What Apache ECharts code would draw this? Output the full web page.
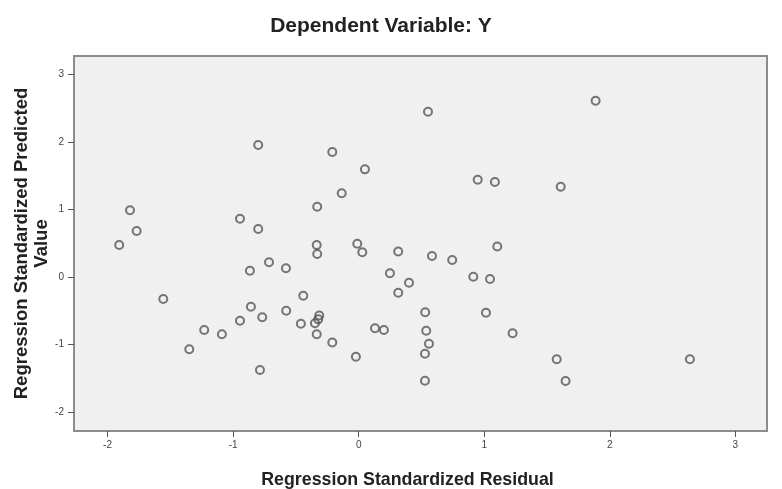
<!DOCTYPE html>
<html>
<head>
<meta charset="utf-8">
<script src="https://cdn.jsdelivr.net/npm/echarts@6/dist/echarts.min.js"></script>
<style>
  html, body { margin: 0; padding: 0; background: #fff; }
  #chart { width: 782px; height: 489px; }
</style>
</head>
<body>
<div id="chart"></div>
<script>
// residual vs predicted
const residual = [
  1.887, 0.552, -0.800, -0.210, 0.050, 0.948, 1.085, 1.609, -0.135, -0.330,
  -1.821, -0.945, -1.768, -0.800, -1.907, -0.334, -0.011, -0.330, 0.029, 0.315,
  1.104, 0.584, 0.745, -0.714, -0.579, -0.866, 0.249, 0.913, 1.046, 0.401,
  0.315, -0.441, -1.556, -0.858, -0.577, 0.530, 1.014, -0.314, -0.768, -0.945,
  -0.460, -0.348, -0.322, -0.334, -1.230, -1.089, 0.130, 0.201, 0.538, 1.226,
  -0.210, 0.560, -1.349, 0.528, -0.022, 1.577, 2.638, -0.786, 0.528, 1.648
]
const predicted = [
  2.611, 2.449, 1.955, 1.852, 1.595, 1.441, 1.407, 1.338, 1.240, 1.041,
  0.988, 0.864, 0.681, 0.711, 0.474, 0.474, 0.492, 0.341, 0.366, 0.378,
  0.452, 0.311, 0.252, 0.218, 0.129, 0.093, 0.055, 0.004, -0.030, -0.084,
  -0.233, -0.277, -0.326, -0.440, -0.499, -0.523, -0.529, -0.570, -0.597, -0.647,
  -0.692, -0.686, -0.627, -0.849, -0.785, -0.849, -0.760, -0.785, -0.795, -0.834,
  -0.970, -0.988, -1.071, -1.136, -1.181, -1.219, -1.219, -1.378, -1.536, -1.541
]
const xTicks = [-2, -1, 0, 1, 2, 3]
const yTicks = [-2, -1, 0, 1, 2, 3]

const chart = echarts.init(document.getElementById('chart'))
const font = '"Liberation Sans", Arial, sans-serif'

const points = residual.map((x, i) => [x, predicted[i]])

const option = {
  backgroundColor: '#fff',
  title: {
    text: 'Dependent Variable: Y',
    left: 376,
    top: 11,
    textAlign: 'center',
    textStyle: { fontFamily: font, fontSize: 21, fontWeight: 'bold', color: '#222' }
  },
  grid: {
    left: 74, right: 15, top: 56, bottom: 58,
    outerBoundsMode: 'none',
    show: true,
    backgroundColor: '#f0f0f0',
    borderColor: '#8c8c8c',
    borderWidth: 2
  },
  xAxis: {
    type: 'value',
    min: -2.267,
    max: 3.252,
    name: 'Regression Standardized Residual',
    nameLocation: 'middle',
    nameGap: 40,
    nameMoveOverlap: false,
    nameTextStyle: {
      fontFamily: font, fontSize: 17.8, fontWeight: 'bold', color: '#222',
      padding: [0, 26, 0, 0]
    },
    axisLine: { show: true, onZero: false, lineStyle: { color: '#8c8c8c', width: 2 } },
    axisTick: { show: true, length: 6, customValues: xTicks, lineStyle: { color: '#555' } },
    axisLabel: { customValues: xTicks, fontFamily: font, fontSize: 10, color: '#444', margin: 9 },
    splitLine: { show: false }
  },
  yAxis: {
    type: 'value',
    min: -2.281,
    max: 3.274,
    name: 'Regression Standardized Predicted\nValue',
    nameLocation: 'middle',
    nameRotate: 90,
    nameGap: 22,
    nameMoveOverlap: false,
    nameTextStyle: {
      fontFamily: font, fontSize: 18.5, fontWeight: 'bold', color: '#222',
      lineHeight: 20, align: 'center'
    },
    axisLine: { show: true, onZero: false, lineStyle: { color: '#8c8c8c', width: 2 } },
    axisTick: { show: true, length: 6, customValues: yTicks, lineStyle: { color: '#555' } },
    axisLabel: { customValues: yTicks, fontFamily: font, fontSize: 10, color: '#444', margin: 10 },
    splitLine: { show: false }
  },
  series: [
    {
      type: 'scatter',
      data: points,
      symbol: 'circle',
      symbolSize: 8,
      itemStyle: {
        color: 'rgba(0,0,0,0)',
        borderColor: '#555',
        borderWidth: 2
      },
      emphasis: { disabled: true }
    }
  ]
}

chart.setOption(option)
</script>
</body>
</html>
